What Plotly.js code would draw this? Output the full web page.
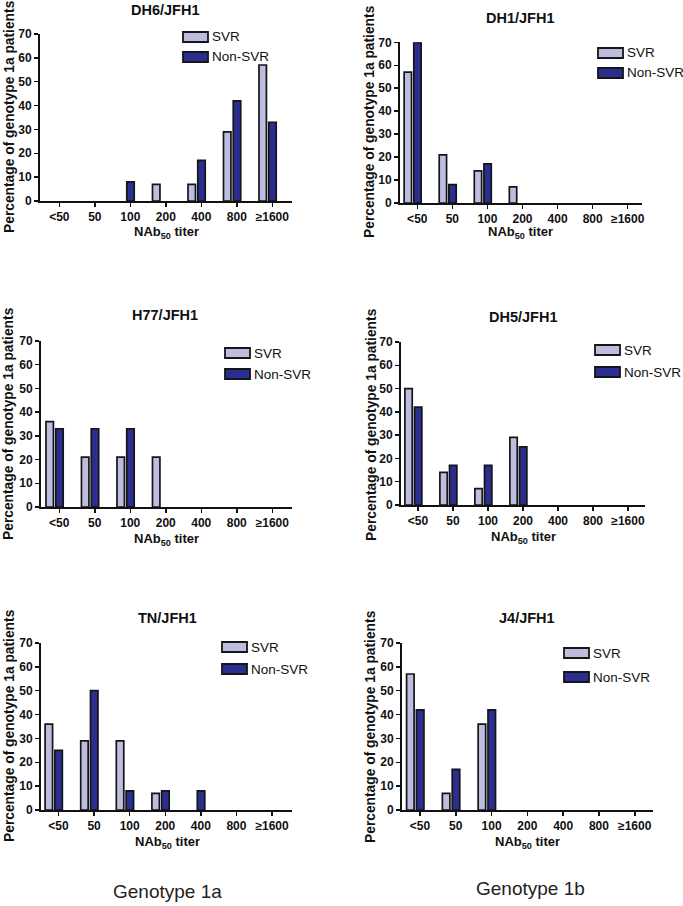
<!DOCTYPE html>
<html>
<head>
<meta charset="utf-8">
<script src="https://cdn.plot.ly/plotly-3.0.1.min.js"></script>
<style>html,body{margin:0;padding:0;background:#fff;}#chart{width:683px;height:906px;}</style>
</head>
<body>
<div id="chart"></div>
<script>
// ---- data ----
const categories = ['<50', '50', '100', '200', '400', '800', '\u22651600'];
const seriesNames = ['SVR', 'Non-SVR'];
const panelTitles = ['DH6/JFH1', 'DH1/JFH1', 'H77/JFH1', 'DH5/JFH1', 'TN/JFH1', 'J4/JFH1'];
const groupLabels = ['Genotype 1a', 'Genotype 1b'];
const yTitle = 'Percentage of genotype 1a patients';
const xTitle = 'NAb<sub>50</sub> titer';

const svrDH6 = [0, 0, 0, 7, 7, 29, 57];
const nonDH6 = [0, 0, 8, 0, 17, 42, 33];
const svrDH1 = [57, 21, 14, 7, 0, 0, 0];
const nonDH1 = [70, 8, 17, 0, 0, 0, 0];
const svrH77 = [36, 21, 21, 21, 0, 0, 0];
const nonH77 = [33, 33, 33, 0, 0, 0, 0];
const svrDH5 = [50, 14, 7, 29, 0, 0, 0];
const nonDH5 = [42, 17, 17, 25, 0, 0, 0];
const svrTN = [36, 29, 29, 7, 0, 0, 0];
const nonTN = [25, 50, 8, 8, 8, 0, 0];
const svrJ4 = [57, 7, 36, 0, 0, 0, 0];
const nonJ4 = [42, 17, 42, 0, 0, 0, 0];

const seriesByPanel = [
  [svrDH6, nonDH6], [svrDH1, nonDH1], [svrH77, nonH77],
  [svrDH5, nonDH5], [svrTN, nonTN], [svrJ4, nonJ4]
];

// ---- layout geometry (pixels) ----
const W = 683, H = 906;
const geom = [
  {x0: 40, x1: 292, yb: 201, yt: 34, range: [-0.544, 6.555], title: [165, 10], xt: [166, 233], yti: [9, 117], leg: [183, 32, 52]},
  {x0: 400, x1: 642, yb: 203, yt: 42.3, range: [-0.493, 6.407], title: [520, 18], xt: [520, 233], yti: [369, 122], leg: [598, 48, 68]},
  {x0: 41, x1: 292, yb: 507, yt: 341, range: [-0.515, 6.555], title: [165, 315], xt: [166, 539], yti: [9, 424], leg: [225, 348, 369]},
  {x0: 401, x1: 645, yb: 505, yt: 342, range: [-0.486, 6.486], title: [523, 317], xt: [523, 537], yti: [371, 425], leg: [595, 345, 367]},
  {x0: 41, x1: 292, yb: 810, yt: 643, range: [-0.49, 6.56], title: [167, 618], xt: [167, 842], yti: [9, 726], leg: [222, 642, 664]},
  {x0: 402, x1: 653, yb: 810, yt: 643, range: [-0.503, 6.51], title: [527, 618], xt: [527, 842], yti: [370, 727], leg: [564, 648, 672]}
];
const colors = ['#bdbde0', '#2b2d8f'];
const outline = '#151515';
const FONT = 'Arial, "Liberation Sans", sans-serif';
const px = v => v / W;
const py = v => 1 - v / H;

const traces = [];
const layout = {
  width: W, height: H,
  margin: {l: 0, r: 0, t: 0, b: 0},
  paper_bgcolor: '#fff', plot_bgcolor: 'rgba(0,0,0,0)',
  showlegend: false,
  barmode: 'overlay',
  font: {family: FONT, color: '#111'},
  annotations: [], shapes: []
};
const offsets = [-0.375, -0.1];
const barW = 0.21;

geom.forEach((g, i) => {
  const n = i + 1;
  const xa = n === 1 ? 'x' : 'x' + n;
  const ya = n === 1 ? 'y' : 'y' + n;
  const xk = n === 1 ? 'xaxis' : 'xaxis' + n;
  const yk = n === 1 ? 'yaxis' : 'yaxis' + n;
  seriesByPanel[i].forEach((vals, s) => {
    traces.push({
      type: 'bar', x: categories, y: vals, name: seriesNames[s],
      xaxis: xa, yaxis: ya, offset: offsets[s], width: barW,
      marker: {color: colors[s], line: {color: outline, width: vals.map(v => v > 0 ? 1.7 : 0)}},
      hoverinfo: 'x+y+name'
    });
  });
  layout[xk] = {
    domain: [px(g.x0), px(g.x1)], anchor: ya, type: 'category',
    categoryorder: 'array', categoryarray: categories,
    range: g.range, showgrid: false, zeroline: false,
    showline: true, linecolor: '#111', linewidth: 2,
    ticks: 'outside', ticklen: 4, tickwidth: 1.5, tickcolor: '#111',
    tickfont: {family: FONT, size: 12, color: '#111', weight: 700},
    fixedrange: true
  };
  layout[yk] = {
    domain: [py(g.yb), py(g.yt)], anchor: xa,
    range: [0, 70], dtick: 10, tick0: 0, showgrid: false, zeroline: false,
    showline: true, linecolor: '#111', linewidth: 2,
    ticks: 'outside', ticklen: 4, tickwidth: 1.5, tickcolor: '#111',
    tickfont: {family: FONT, size: 12, color: '#111', weight: 700},
    fixedrange: true
  };
  layout.annotations.push({
    text: panelTitles[i], xref: 'paper', yref: 'paper',
    x: px(g.title[0]), y: py(g.title[1]), xanchor: 'center', yanchor: 'middle',
    showarrow: false, font: {family: FONT, size: 14.5, color: '#111', weight: 700}
  });
  layout.annotations.push({
    text: xTitle, xref: 'paper', yref: 'paper',
    x: px(g.xt[0]), y: py(g.xt[1]), xanchor: 'center', yanchor: 'middle',
    showarrow: false, font: {family: FONT, size: 13, color: '#111', weight: 700}
  });
  layout.annotations.push({
    text: yTitle, xref: 'paper', yref: 'paper', textangle: -90,
    x: px(g.yti[0]), y: py(g.yti[1]), xanchor: 'center', yanchor: 'middle',
    showarrow: false, font: {family: FONT, size: 13.8, color: '#111', weight: 700}
  });
  [g.leg[1], g.leg[2]].forEach((top, s) => {
    layout.shapes.push({
      type: 'rect', xref: 'paper', yref: 'paper',
      x0: px(g.leg[0]), x1: px(g.leg[0] + 25), y0: py(top + 10), y1: py(top),
      fillcolor: colors[s], line: {color: outline, width: 1.8}
    });
    layout.annotations.push({
      text: seriesNames[s], xref: 'paper', yref: 'paper',
      x: px(g.leg[0] + 27), y: py(top + 5), xanchor: 'left', yanchor: 'middle',
      showarrow: false, font: {family: FONT, size: 13.5, color: '#111'}
    });
  });
});

[[167, 891], [530, 888]].forEach((p, k) => {
  layout.annotations.push({
    text: groupLabels[k], xref: 'paper', yref: 'paper',
    x: px(p[0]), y: py(p[1]), xanchor: 'center', yanchor: 'middle',
    showarrow: false, font: {family: FONT, size: 19, color: '#222'}
  });
});

Plotly.newPlot('chart', traces, layout, {displayModeBar: false, staticPlot: true});
</script>
</body>
</html>
